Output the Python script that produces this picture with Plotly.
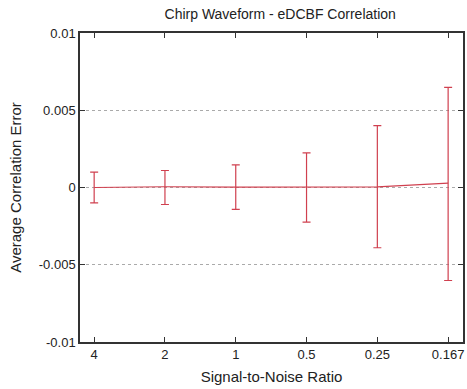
import plotly.graph_objects as go

snr_labels = ["4", "2", "1", "0.5", "0.25", "0.167"]
snr_pos = [0, 1, 2, 3, 4, 5]
mean_err = [0.0, 0.00005, 0.00003, 0.00002, 0.00004, 0.00028]
err_plus = [0.0010, 0.00105, 0.00143, 0.00222, 0.00396, 0.0062]
err_minus = [0.0010, 0.00115, 0.00145, 0.00226, 0.00394, 0.0063]

red = "#d0404f"
font = "Liberation Sans, Arial, sans-serif"

fig = go.Figure()
fig.add_trace(go.Scatter(
    x=snr_pos, y=mean_err, mode="lines",
    line=dict(color=red, width=1.2),
    error_y=dict(type="data", symmetric=False, array=err_plus, arrayminus=err_minus,
                 color=red, thickness=1.2, width=4),
    showlegend=False,
))

fig.update_layout(
    width=467, height=389,
    margin=dict(l=80, r=2, t=33, b=47),
    paper_bgcolor="white", plot_bgcolor="white",
    font=dict(family=font, color="#222", size=12),
    title=dict(text="Chirp Waveform - eDCBF Correlation", x=0.6, xanchor="center",
               y=0.964, yanchor="middle", font=dict(size=14, color="#222", family=font)),
)
fig.update_xaxes(
    range=[-0.2, 5.21], tickmode="array", tickvals=snr_pos, ticktext=snr_labels,
    showline=True, linecolor="#333", linewidth=1.5, mirror="ticks",
    ticks="inside", ticklen=5, tickcolor="#333", showgrid=False, zeroline=False,
    title=dict(text="Signal-to-Noise Ratio", font=dict(size=15, family=font, color="#222"), standoff=10),
    tickfont=dict(size=13),
)
fig.update_yaxes(
    range=[-0.01, 0.01], tickmode="array",
    tickvals=[-0.01, -0.005, 0, 0.005, 0.01],
    ticktext=["-0.01", "-0.005", "0", "0.005", "0.01"],
    showline=True, linecolor="#333", linewidth=1.5, mirror="ticks",
    ticks="inside", ticklen=5, tickcolor="#333",
    showgrid=True, gridcolor="#aaa", griddash="dot", gridwidth=1, zeroline=False,
    title=dict(text="Average Correlation Error", font=dict(size=15, family=font, color="#222"), standoff=14),
    tickfont=dict(size=13),
)
fig.write_html("out.html")
